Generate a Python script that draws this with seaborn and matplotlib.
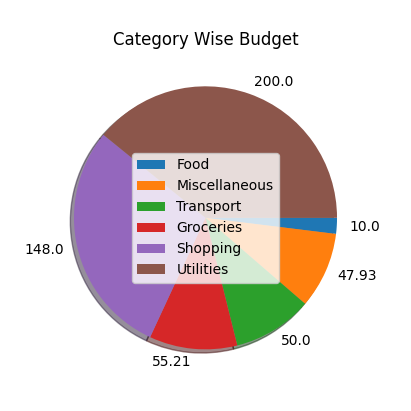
import matplotlib
matplotlib.use("Agg")
import matplotlib.pyplot as plt
import seaborn as sns

categories = ["Food", "Miscellaneous", "Transport", "Groceries", "Shopping", "Utilities"]
values = [10.0, 47.93, 50.0, 55.21, 148.0, 200.0]
value_labels = ["10.0", "47.93", "50.0", "55.21", "148.0", "200.0"]

colors = sns.color_palette("tab10", len(categories))
fig, ax = plt.subplots(figsize=(4.11, 4.11), dpi=100)
fig.subplots_adjust(left=0.1, right=0.9, top=0.89, bottom=0.05)
wedges, texts = ax.pie(values, labels=value_labels, colors=colors, shadow=True,
                       startangle=0, counterclock=False)
ax.legend(wedges, categories, loc="center")
ax.set_title("Category Wise Budget")
fig.savefig("out.png", dpi=100)
